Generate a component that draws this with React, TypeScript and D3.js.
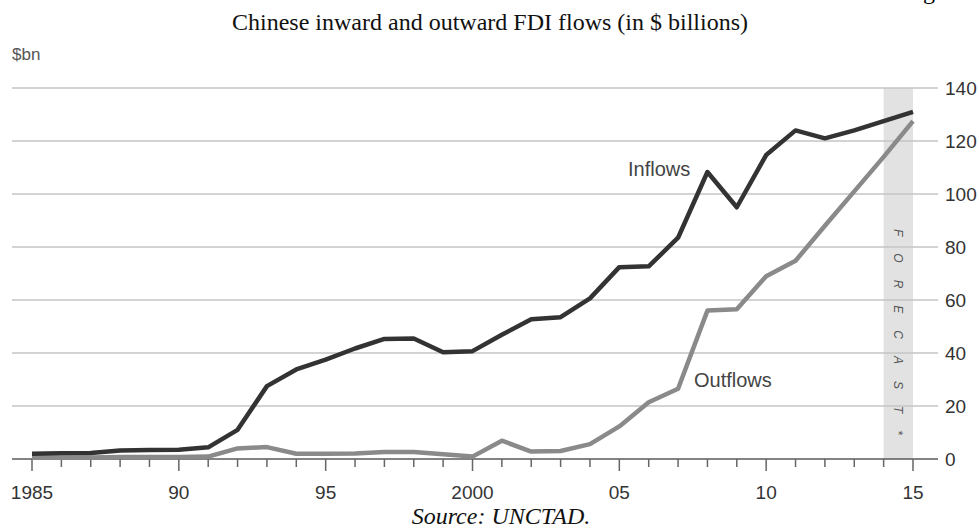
import React from 'react';
import * as d3 from 'd3';

// China FDI flows, $bn (2014-15 forecast)
const years = d3.range(1985, 2016);
const inflows = [2.0, 2.2, 2.3, 3.2, 3.4, 3.5, 4.4, 11.0, 27.5, 33.8, 37.5, 41.7, 45.3, 45.5, 40.3, 40.7,
  46.9, 52.7, 53.5, 60.6, 72.4, 72.7, 83.5, 108.3, 95.0, 114.7, 124.0, 121.0, 124.0, 127.5, 131.0];
const outflows = [0.6, 0.5, 0.6, 0.8, 0.8, 0.8, 0.9, 4.0, 4.5, 2.0, 2.0, 2.1, 2.6, 2.6, 1.8, 0.9,
  6.9, 2.8, 3.0, 5.6, 12.3, 21.4, 26.5, 56.0, 56.5, 69.0, 74.8, 88.0, 101.0, 114.0, 127.5];
const yTicks = [0, 20, 40, 60, 80, 100, 120, 140];
const xMajor = [1985, 1990, 1995, 2000, 2005, 2010, 2015];
const xLabels = ['1985', '90', '95', '2000', '05', '10', '15'];
const forecastFrom = 2014;

const W = 979, H = 532;
const font = '"Liberation Sans", Arial, sans-serif';
const serif = '"Liberation Serif", "Times New Roman", serif';

export default function App() {
  const x = d3.scaleLinear().domain([1985, 2015]).range([32, 913]);
  const y = d3.scaleLinear().domain([0, 140]).range([459, 88]);
  const gridL = 12, gridR = 938;

  const line = d3.line<number>()
    .x((d, i) => x(years[i]))
    .y(d => y(d));

  return (
    <svg width={W} height={H} style={{ position: 'absolute', left: 0, top: 0, background: '#fff' }}>
      {/* page header, cut off at the top like the scan */}
      <text x={903} y={-1} fontFamily={serif} fontSize={24} fill="#000">Figure 3</text>
      <text x={490} y={30} textAnchor="middle" fontFamily={serif} fontSize={24} fill="#111">
        Chinese inward and outward FDI flows (in $ billions)
      </text>
      <text x={12} y={60} fontFamily={font} fontSize={17} fill="#555">$bn</text>

      {/* forecast band */}
      <rect x={x(forecastFrom)} y={y(140)} width={x(2015) - x(forecastFrom)} height={y(0) - y(140)} fill="#e2e2e2" />
      <text transform={`translate(${(x(forecastFrom) + x(2015)) / 2 - 4},229) rotate(90)`}
        fontFamily={font} fontStyle="italic" fontSize={12} letterSpacing={17} fill="#555">FORECAST*</text>

      {/* gridlines */}
      {yTicks.map(t => (
        <g key={t}>
          <line x1={gridL} x2={gridR} y1={y(t)} y2={y(t)}
            stroke={t === 0 ? '#5a5a5a' : '#c4c4c4'} strokeWidth={1.5} />
          <text x={945} y={y(t) + 7} fontFamily={font} fontSize={19} fill="#333">{t}</text>
        </g>
      ))}

      {/* x ticks */}
      {years.map(yr => (
        <line key={yr} x1={x(yr)} x2={x(yr)} y1={y(0)} y2={y(0) + (yr % 5 === 0 ? 12 : 8)}
          stroke="#666" strokeWidth={1.5} />
      ))}
      {xMajor.map((yr, i) => (
        <text key={yr} x={x(yr)} y={499} textAnchor="middle" fontFamily={font} fontSize={19} fill="#333">{xLabels[i]}</text>
      ))}

      {/* series */}
      <path d={line(outflows) || ''} fill="none" stroke="#8a8a8a" strokeWidth={4.5} strokeLinejoin="round" />
      <path d={line(inflows) || ''} fill="none" stroke="#333" strokeWidth={4.5} strokeLinejoin="round" />

      <text x={628} y={176} fontFamily={font} fontSize={20} fill="#444">Inflows</text>
      <text x={694} y={387} fontFamily={font} fontSize={20} fill="#444">Outflows</text>

      <text x={501} y={524} textAnchor="middle" fontFamily={serif}
        fontStyle="italic" fontSize={24} fill="#111">Source: UNCTAD.</text>
    </svg>
  );
}
